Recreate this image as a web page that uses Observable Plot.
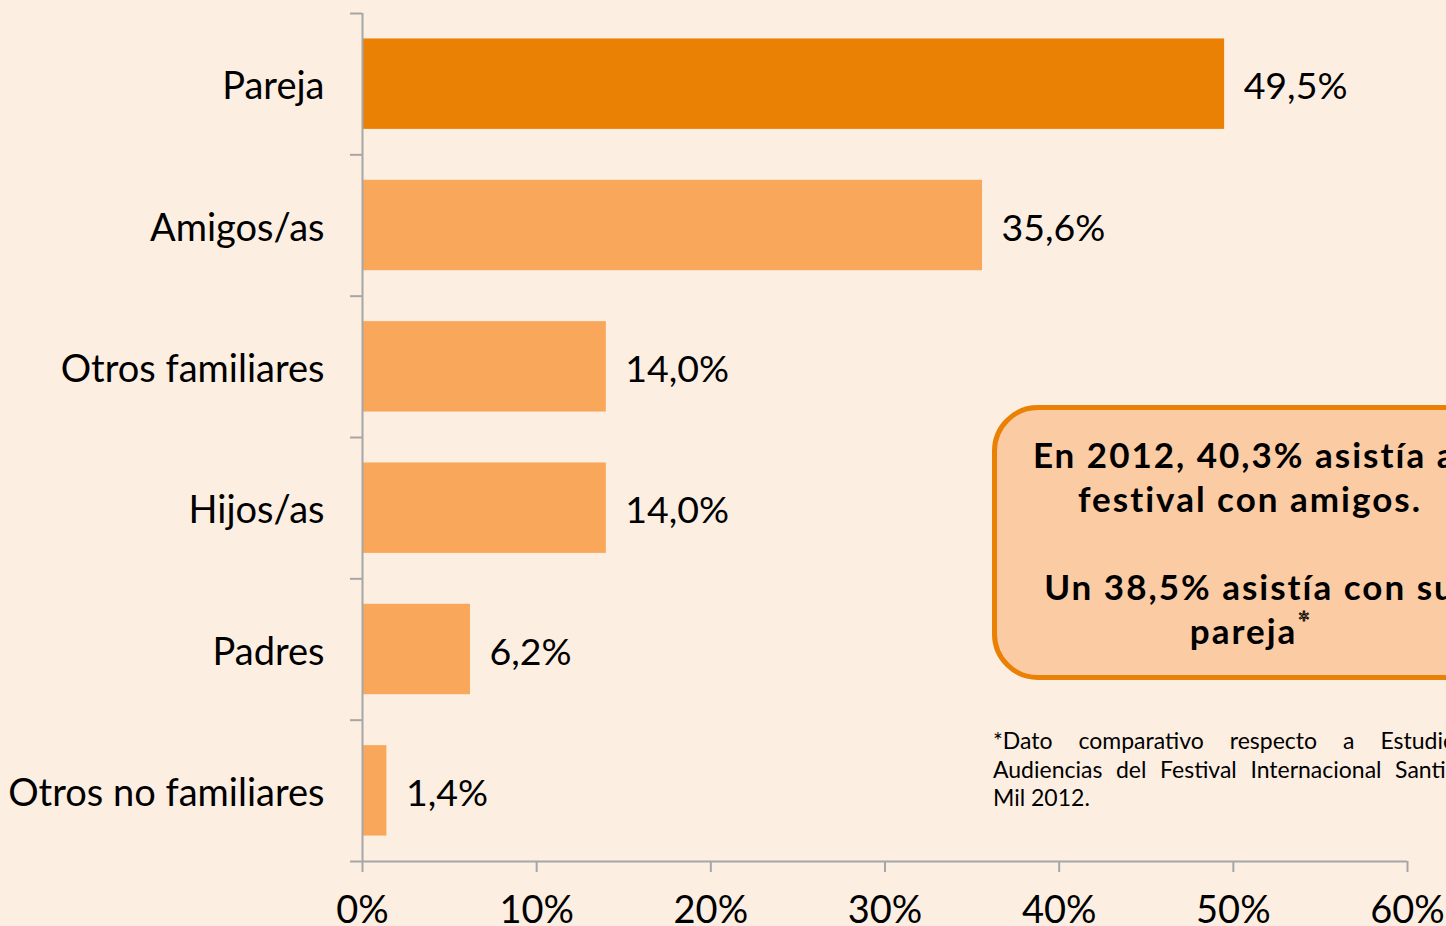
<!DOCTYPE html>
<html>
<head>
<meta charset="utf-8">
<script src="https://cdn.jsdelivr.net/npm/d3@7"></script>
<script src="https://cdn.jsdelivr.net/npm/@observablehq/plot@0.6"></script>
<style>
  html, body { margin: 0; padding: 0; background: #FDEEE2; overflow: hidden; width: 1446px; height: 926px; }
  #wrap { position: relative; width: 1446px; height: 926px; font-family: Lato, "Noto Sans", sans-serif; }
  #box {
    position: absolute; left: 992px; top: 405px; width: 516px; height: 275px;
    box-sizing: border-box; border: 5px solid #EA8004; border-radius: 46px;
    background: #FBCBA4; text-align: center; font-weight: bold; font-size: 35px;
    letter-spacing: 2px; line-height: 44px; padding-top: 22px; color: #000; white-space: nowrap;
  }
  #box sup { font-size: 30px; font-weight: normal; color: #FBCBA4; -webkit-text-stroke: 1px #000; vertical-align: 10px; line-height: 0; letter-spacing: 0; }
  #note {
    position: absolute; left: 993px; top: 726px; width: 514px; font-size: 23px; line-height: 28.5px; color: #000;
  }
  #note span { display: block; text-align: justify; text-align-last: justify; white-space: nowrap; }
  #note span.last { text-align-last: left; }
</style>
</head>
<body>
<div id="wrap">
  <div id="chart"></div>
  <div id="box">En 2012, 40,3% asistía al<br>festival con amigos.<br><br>Un 38,5% asistía con su<br>pareja<sup>*</sup></div>
  <div id="note">
    <span>*Dato comparativo respecto a Estudio de</span>
    <span>Audiencias del Festival Internacional Santiago a</span>
    <span class="last">Mil 2012.</span>
  </div>
</div>
<script>
const categories = ["Pareja", "Amigos/as", "Otros familiares", "Hijos/as", "Padres", "Otros no familiares"];
const values = [49.5, 35.6, 14.0, 14.0, 6.2, 1.4];
const xTicks = [0, 10, 20, 30, 40, 50, 60];

const pad = 0.18;
const axisGray = "#A6A6A6";
const data = categories.map((c, i) => ({category: c, value: values[i], i}));
const fmt = v => v.toFixed(1).replace(".", ",") + "%";

const chart = Plot.plot({
  width: 1446,
  height: 926,
  marginLeft: 362,
  marginRight: 39,
  marginTop: 13,
  marginBottom: 65,
  style: {background: "#FDEEE2", fontFamily: "Lato, 'Noto Sans', sans-serif", color: "#000"},
  x: {domain: [0, 60], axis: null},
  y: {domain: [0, categories.length], reverse: true, axis: null},
  marks: [
    Plot.rectX(data, {
      x1: 0, x2: "value",
      y1: d => d.i + pad, y2: d => d.i + 1 - pad,
      fill: d => d.i === 0 ? "#EA8004" : "#F9A85B"
    }),
    Plot.ruleX([0], {y1: 0, y2: categories.length, stroke: axisGray, strokeWidth: 2}),
    Plot.ruleY([categories.length], {x1: 0, x2: 60, stroke: axisGray, strokeWidth: 2}),
    Plot.axisY({
      ticks: d3.range(0, categories.length + 1),
      tickSize: 12, tickFormat: () => "", stroke: axisGray, strokeWidth: 2, label: null
    }),
    Plot.axisX({
      ticks: xTicks, tickFormat: d => d + "%", tickSize: 11, tickPadding: 24,
      stroke: axisGray, strokeWidth: 2, fontSize: 38, fill: "#000", label: null
    }),
    Plot.text(data, {
      x: 0, y: d => d.i + 0.5, text: "category", textAnchor: "end", dx: -38, dy: 3,
      fontSize: 38, fill: "#000"
    }),
    Plot.text(data, {
      x: "value", y: d => d.i + 0.5, text: d => fmt(d.value), textAnchor: "start", dx: 19, dy: 3,
      fontSize: 37.5, fill: "#000"
    })
  ]
});
document.getElementById("chart").appendChild(chart);
</script>
</body>
</html>
